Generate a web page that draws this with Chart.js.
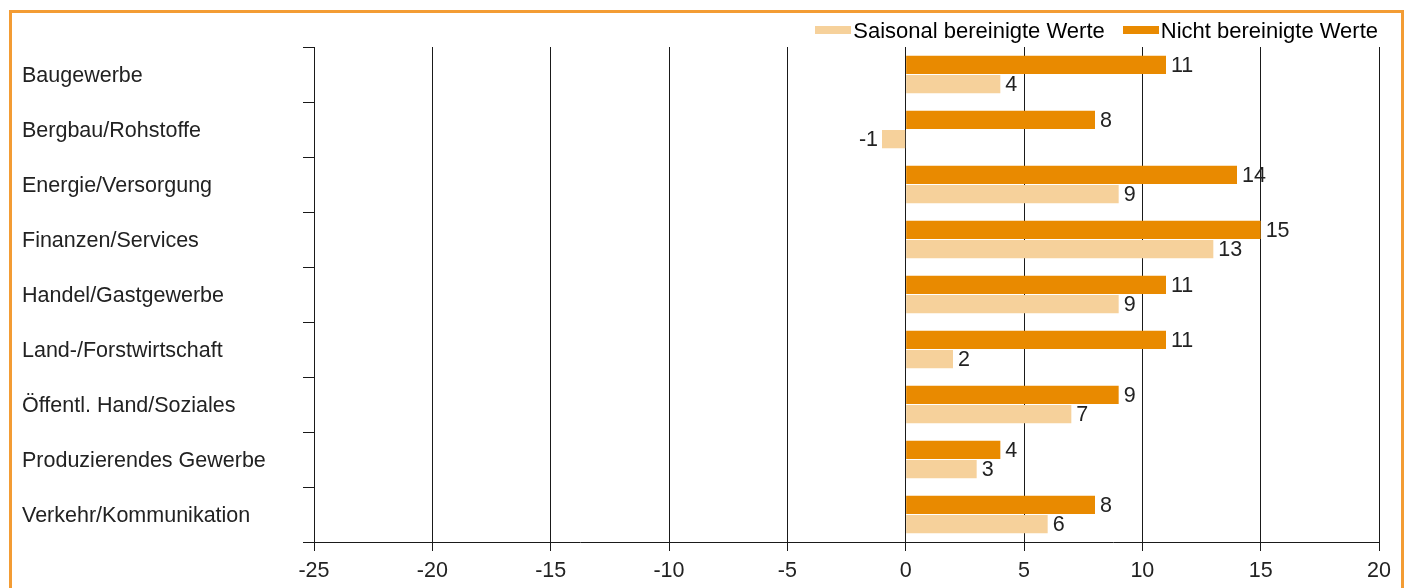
<!DOCTYPE html>
<html>
<head>
<meta charset="utf-8">
<script src="https://cdn.jsdelivr.net/npm/chart.js@4"></script>
<style>
  html, body { margin: 0; padding: 0; background: #fff; overflow: hidden; }
  #frame {
    position: absolute; left: 9px; top: 10px; width: 1395px; height: 640px;
    border: 3px solid #f39c34; box-sizing: border-box;
  }
  #wrap { position: absolute; left: 0; top: 0; width: 1406px; height: 588px; }
  #legend {
    position: absolute; right: 28px; top: 19px; display: flex; align-items: center;
    font: 22px/24px 'Liberation Sans', Arial, Helvetica, sans-serif; color: #000;
  }
  #legend .item { display: flex; align-items: center; margin-left: 18px; }
  #legend .box { width: 36px; height: 8px; margin-right: 2px; margin-top: -2px; }
</style>
</head>
<body>
<div id="frame"></div>
<div id="wrap"><canvas id="chart"></canvas></div>
<div id="legend"></div>
<script>
// Branchen (categories)
const branchen = [
  "Baugewerbe",
  "Bergbau/Rohstoffe",
  "Energie/Versorgung",
  "Finanzen/Services",
  "Handel/Gastgewerbe",
  "Land-/Forstwirtschaft",
  "Öffentl. Hand/Soziales",
  "Produzierendes Gewerbe",
  "Verkehr/Kommunikation",
];

// Values
const nichtBereinigt = [11, 8, 14, 15, 11, 11, 9, 4, 8];
const saisonBereinigt = [4, -1, 9, 13, 9, 2, 7, 3, 6];

// x axis range
const xMin = -25;
const xMax = 20;
const xStep = 5;

const FONT = "'Liberation Sans', Arial, Helvetica, sans-serif";

// draws the value next to the end of each bar
const valueLabels = {
  id: "valueLabels",
  afterDraw(chart) {
    const ctx = chart.ctx;
    ctx.save();
    ctx.font = "21.5px " + FONT;
    ctx.fillStyle = "#222";
    ctx.textBaseline = "middle";
    chart.data.datasets.forEach((ds, i) => {
      chart.getDatasetMeta(i).data.forEach((bar, j) => {
        const v = ds.data[j];
        if (v < 0) {
          ctx.textAlign = "right";
          ctx.fillText(String(v), bar.x - 4, bar.y + 1);
        } else {
          ctx.textAlign = "left";
          ctx.fillText(String(v), bar.x + 5, bar.y + 1);
        }
      });
    });
    ctx.restore();
  },
};

document.addEventListener("DOMContentLoaded", function () {
  Chart.defaults.font.family = FONT;
  Chart.defaults.color = "#222";

  const chart = new Chart(document.getElementById("chart"), {
    type: "bar",
    data: {
      labels: branchen,
      datasets: [
        {
          label: "Nicht bereinigte Werte",
          data: nichtBereinigt,
          backgroundColor: "#e98a00",
          borderWidth: 0,
          categoryPercentage: 0.7,
          barPercentage: 0.95,
        },
        {
          label: "Saisonal bereinigte Werte",
          data: saisonBereinigt,
          backgroundColor: "#f6d19b",
          borderWidth: 0,
          categoryPercentage: 0.7,
          barPercentage: 0.95,
        },
      ],
    },
    options: {
      indexAxis: "y",
      responsive: true,
      maintainAspectRatio: false,
      animation: false,
      layout: {
        padding: { left: 22, right: 16, top: 47, bottom: 0 },
      },
      plugins: {
        legend: { display: false },
        tooltip: { enabled: false },
      },
      scales: {
        x: {
          min: xMin,
          max: xMax,
          z: 1,
          ticks: {
            stepSize: xStep,
            font: { size: 21.5 },
            color: "#222",
            padding: 7,
            maxRotation: 0,
          },
          grid: {
            color: "#1a1a1a",
            lineWidth: 1,
            tickLength: 9,
          },
          border: { color: "#1a1a1a", width: 1 },
          afterFit(scale) {
            scale.paddingLeft = 0;
            scale.paddingRight = 27;
            scale.height = 46;
          },
        },
        y: {
          ticks: {
            crossAlign: "far",
            labelOffset: 2,
            font: { size: 21.5 },
            color: "#222",
          },
          grid: {
            drawOnChartArea: false,
            color: "#1a1a1a",
            tickLength: 11,
          },
          border: { color: "#1a1a1a", width: 1 },
          afterFit(scale) {
            scale.width = 292;
          },
        },
      },
    },
    plugins: [valueLabels],
  });

  // legend built from the datasets, in reverse order like the original
  const legend = document.getElementById("legend");
  chart.data.datasets.slice().reverse().forEach((ds) => {
    const item = document.createElement("div");
    item.className = "item";
    const box = document.createElement("span");
    box.className = "box";
    box.style.background = ds.backgroundColor;
    const text = document.createElement("span");
    text.textContent = ds.label;
    item.appendChild(box);
    item.appendChild(text);
    legend.appendChild(item);
  });
});
</script>
</body>
</html>
